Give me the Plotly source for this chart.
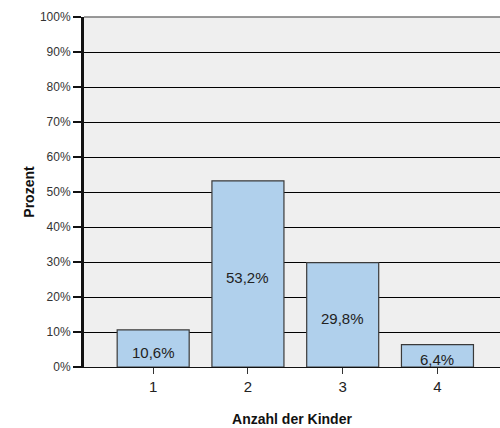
import plotly.graph_objects as go

kinder = [1, 2, 3, 4]
prozent = [10.6, 53.2, 29.8, 6.4]
labels = ["10,6%", "53,2%", "29,8%", "6,4%"]
y_ticks = [0, 10, 20, 30, 40, 50, 60, 70, 80, 90, 100]
y_ticktext = [f"{v}%" for v in y_ticks]

fig = go.Figure()
fig.add_trace(go.Bar(
    x=kinder,
    y=prozent,
    width=0.76,
    marker_color='#b0d0ec',
    marker_line_color='#3a3a3a',
    marker_line_width=1.2,
    hoverinfo='skip'))

# Werte in den Balken
for k, p, t in zip(kinder, prozent, labels):
    fig.add_annotation(x=k, y=p / 2, text=t, showarrow=False, yshift=-4,
                       font=dict(size=15, color='#222222', family='Liberation Sans, Arial'))

fig.update_layout(
    width=500, height=428,
    margin=dict(l=84, r=0, t=17, b=61),
    paper_bgcolor='white',
    plot_bgcolor='#efefef',
    showlegend=False,
    font=dict(family='Liberation Sans, Arial', color='#222222'),
    shapes=[dict(type='line', xref='paper', yref='paper', x0=0, x1=1, y0=1, y1=1,
                 line=dict(color='#777777', width=1.5))],
)
fig.update_xaxes(
    range=[0.27, 4.66],
    tickvals=kinder,
    ticktext=[str(k) for k in kinder],
    ticks='outside', ticklen=6, tickcolor='#333333', tickwidth=1,
    tickfont=dict(size=15, color='#222222'),
    showgrid=False, zeroline=False,
    showline=True, linecolor='#111111', linewidth=1,
    title=dict(text='<b>Anzahl der Kinder</b>', font=dict(size=14, color='#111111'), standoff=20),
)
fig.update_yaxes(
    range=[0, 100],
    tickvals=y_ticks,
    ticktext=y_ticktext,
    ticks='outside', ticklen=8, tickcolor='#111111', tickwidth=1.5,
    tickfont=dict(size=12, color='#333333'),
    showgrid=True, gridcolor='#000000', gridwidth=1.2,
    zeroline=False,
    showline=True, linecolor='#111111', linewidth=3,
    title=dict(text='<b>Prozent</b>', font=dict(size=14, color='#111111'), standoff=2),
)

fig.write_html("out.html", config={'displayModeBar': False},
               post_script="document.body.style.margin='0';")
